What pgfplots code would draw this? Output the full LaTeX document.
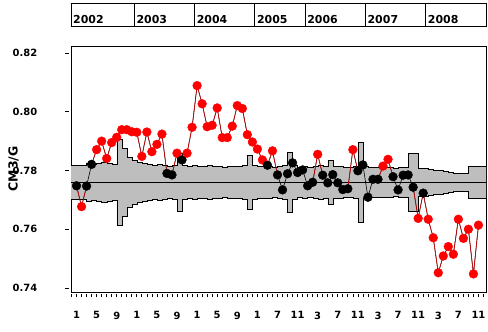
\documentclass[border=0pt]{standalone}
\usepackage{pgfplots}
\pgfplotsset{compat=1.18}
\usepackage{pgfplotstable}
\usepgfplotslibrary{fillbetween}
\usepackage{fontspec}
\setmainfont{DejaVu Sans}
\definecolor{bandgray}{RGB}{190,190,190}
\definecolor{ptred}{RGB}{255,0,0}
\tikzset{yearlab/.style={anchor=base west, inner sep=0pt, xshift=2bp, yshift=2.7bp, font=\bfseries\fontsize{11}{13}\selectfont}}

\pgfplotstableread{
i y c ra rb
1 0.7748 k 0.7748 nan
2 0.7677 r 0.7677 nan
3 0.7747 k 0.7747 nan
4 0.7821 k nan 0.7821
5 0.7871 r nan 0.7871
6 0.7900 r nan 0.7900
7 0.7841 r nan 0.7841
8 0.7895 r nan 0.7895
9 0.7913 r nan 0.7913
10 0.7939 r nan 0.7939
11 0.7939 r nan 0.7939
12 0.7932 r nan 0.7932
13 0.7930 r nan 0.7930
14 0.7848 r nan 0.7848
15 0.7931 r nan 0.7931
16 0.7864 r nan 0.7864
17 0.7889 r nan 0.7889
18 0.7924 r nan 0.7924
19 0.7790 k nan 0.7790
20 0.7785 k 0.7785 nan
21 0.7859 r 0.7859 nan
22 0.7836 k 0.7836 nan
23 0.7859 r 0.7859 nan
24 0.7947 r 0.7947 nan
25 0.8089 r 0.8089 nan
26 0.8027 r 0.8027 nan
27 0.7949 r 0.7949 nan
28 0.7954 r 0.7954 nan
29 0.8013 r 0.8013 nan
30 0.7912 r 0.7912 nan
31 0.7912 r 0.7912 nan
32 0.7951 r 0.7951 nan
33 0.8021 r 0.8021 nan
34 0.8011 r 0.8011 nan
35 0.7922 r 0.7922 nan
36 0.7897 r 0.7897 nan
37 0.7873 r 0.7873 nan
38 0.7836 r 0.7836 nan
39 0.7818 k 0.7818 nan
40 0.7867 r 0.7867 nan
41 0.7785 k 0.7785 nan
42 0.7734 k nan nan
43 0.7789 k nan nan
44 0.7826 k nan nan
45 0.7793 k nan nan
46 0.7802 k nan nan
47 0.7748 k nan nan
48 0.7760 k nan 0.7760
49 0.7855 r nan 0.7855
50 0.7784 k nan 0.7784
51 0.7758 k nan nan
52 0.7786 k nan nan
53 0.7758 k nan nan
54 0.7735 k nan nan
55 0.7738 k 0.7738 nan
56 0.7871 r 0.7871 nan
57 0.7799 k 0.7799 nan
58 0.7819 k nan nan
59 0.7709 k nan nan
60 0.7770 k nan nan
61 0.7770 k nan 0.7770
62 0.7815 r nan 0.7815
63 0.7838 r nan 0.7838
64 0.7779 k nan 0.7779
65 0.7734 k nan nan
66 0.7784 k nan nan
67 0.7785 k nan nan
68 0.7743 k 0.7743 nan
69 0.7637 r 0.7637 nan
70 0.7723 k 0.7723 nan
71 0.7634 r 0.7634 nan
72 0.7571 r 0.7571 nan
73 0.7452 r 0.7452 nan
74 0.7509 r 0.7509 nan
75 0.7541 r 0.7541 nan
76 0.7515 r 0.7515 nan
77 0.7634 r 0.7634 nan
78 0.7569 r 0.7569 nan
79 0.7600 r 0.7600 nan
80 0.7448 r 0.7448 nan
81 0.7614 r 0.7614 nan
}\pts

\pgfplotstableread{
i up lo
-1 0.78179 0.77021
1 0.78179 0.77021
2 0.78179 0.77021
3 0.78179 0.77021
4 0.78247 0.76953
5 0.78213 0.76987
6 0.78247 0.76953
7 0.78281 0.76919
8 0.78247 0.76953
9 0.78213 0.76987
10 0.79064 0.76136
11 0.78757 0.76443
12 0.78451 0.76749
13 0.78349 0.76851
14 0.78281 0.76919
15 0.78247 0.76953
16 0.78213 0.76987
17 0.78179 0.77021
18 0.78213 0.76987
19 0.78179 0.77021
20 0.78145 0.77055
21 0.78179 0.77021
22 0.78587 0.76613
23 0.78179 0.77021
24 0.78145 0.77055
25 0.78179 0.77021
26 0.78145 0.77055
27 0.78145 0.77055
28 0.78179 0.77021
29 0.78145 0.77055
30 0.78145 0.77055
31 0.78111 0.77089
32 0.78145 0.77055
33 0.78145 0.77055
34 0.78145 0.77055
35 0.78179 0.77021
36 0.78519 0.76681
37 0.78179 0.77021
38 0.78145 0.77055
39 0.78145 0.77055
40 0.78145 0.77055
41 0.78111 0.77089
42 0.78145 0.77055
43 0.78179 0.77021
44 0.78621 0.76579
45 0.78179 0.77021
46 0.78111 0.77089
47 0.78145 0.77055
48 0.78111 0.77089
49 0.78145 0.77055
50 0.78179 0.77021
51 0.78145 0.77055
52 0.78349 0.76851
53 0.78145 0.77055
54 0.78145 0.77055
55 0.78111 0.77089
56 0.78111 0.77089
57 0.78145 0.77055
58 0.78962 0.76238
59 0.78145 0.77055
60 0.78111 0.77089
61 0.78111 0.77089
62 0.78111 0.77089
63 0.78111 0.77089
64 0.78111 0.77089
65 0.78077 0.77123
66 0.78111 0.77089
67 0.78111 0.77089
68 0.78587 0.76613
69 0.78587 0.76613
70 0.78077 0.77123
71 0.78077 0.77123
72 0.78043 0.77157
73 0.78009 0.77191
74 0.78009 0.77191
75 0.77974 0.77226
76 0.77940 0.77260
77 0.77906 0.77294
78 0.77906 0.77294
79 0.77906 0.77294
80 0.78145 0.77055
81 0.78145 0.77055
84 0.78145 0.77055
}\band

\begin{document}
\begin{tikzpicture}
\begin{axis}[name=main, at={(0,0)}, anchor=south west,
  scale only axis, width=415bp, height=246bp,
  xmin=-0.1, xmax=82.5, ymin=0.73864, ymax=0.82238,
  axis line style={line width=0.8bp},
  unbounded coords=jump,
  tick align=outside, xtick pos=bottom, ytick pos=left,
  xtick={1,5,9,13,17,21,25,29,33,37,41,45,49,53,57,61,65,69,73,77,81},
  xticklabels={1,5,9,1,5,9,1,5,9,1,7,11,3,7,11,3,7,11,3,7,11},
  minor xtick={0,1,...,82},
  ytick={0.74,0.76,0.78,0.80,0.82},
  /pgf/number format/fixed,
  /pgf/number format/fixed zerofill,
  /pgf/number format/precision=2,
  /pgf/number format/assume math mode=true,
  yticklabel style={anchor=east, inner sep=0pt, xshift=-24bp},
  xticklabel style={anchor=north, inner sep=0pt, yshift=-16bp},
  yticklabel shift=6bp,
  tick label style={font=\bfseries\fontsize{10}{12}\selectfont},
  major tick length=3.5bp, minor tick length=3.5bp,
  tick style={black, line width=0.7bp},
  ytick style={xshift=-2bp},
  xtick style={yshift=-1.5bp},
  every axis y label/.style={at={(axis description cs:-0.1386,0.5)}, rotate=90, anchor=center, font=\bfseries\fontsize{12.5}{14}\selectfont},
  ylabel={CM3/G},
  clip=true]
  \addplot[name path=U, draw=none, const plot mark mid, forget plot] table[x=i, y=up]{\band};
  \addplot[name path=L, draw=none, const plot mark mid, forget plot] table[x=i, y=lo]{\band};
  \addplot[fill=bandgray, draw=none, forget plot] fill between[of=U and L];
  \addplot[black, line width=0.8bp, const plot mark mid, mark=none] table[x=i, y=up]{\band};
  \addplot[black, line width=0.8bp, const plot mark mid, mark=none] table[x=i, y=lo]{\band};
  \addplot[black, line width=0.8bp, mark=none] coordinates {(-1,0.7760) (84,0.7760)};
  \addplot[black, line width=0.6bp, mark=none] table[x=i, y=y]{\pts};
  \addplot[ptred!85!black, line width=0.6bp, mark=none] table[x=i, y=ra]{\pts};
  \addplot[ptred!85!black, line width=0.6bp, mark=none] table[x=i, y=rb]{\pts};
  \addplot[scatter, only marks, scatter src=explicit symbolic,
    scatter/classes={r={mark=*, mark size=4.4bp, draw=ptred, fill=ptred},
                     k={mark=*, mark size=4.4bp, draw=black, fill=black}}]
    table[x=i, y=y, meta=c]{\pts};
\end{axis}
\begin{axis}[at={(0,266bp)}, anchor=south west,
  scale only axis, width=415bp, height=23bp,
  xmin=-0.1, xmax=82.5, ymin=0, ymax=1,
  xtick={12.5,24.5,36.5,46.5,58.5,70.5}, xticklabels={},
  ytick=\empty, major tick length=0pt,
  xmajorgrids, major grid style={black, line width=0.8bp},
  axis line style={line width=0.8bp}]
  \node[yearlab] at (axis cs:-0.1,0) {2002};
  \node[yearlab] at (axis cs:12.5,0) {2003};
  \node[yearlab] at (axis cs:24.5,0) {2004};
  \node[yearlab] at (axis cs:36.5,0) {2005};
  \node[yearlab] at (axis cs:46.5,0) {2006};
  \node[yearlab] at (axis cs:58.5,0) {2007};
  \node[yearlab] at (axis cs:70.5,0) {2008};
\end{axis}
\pgfresetboundingbox
\useasboundingbox (-71bp,-40bp) rectangle (417bp,292bp);
\end{tikzpicture}
\end{document}
